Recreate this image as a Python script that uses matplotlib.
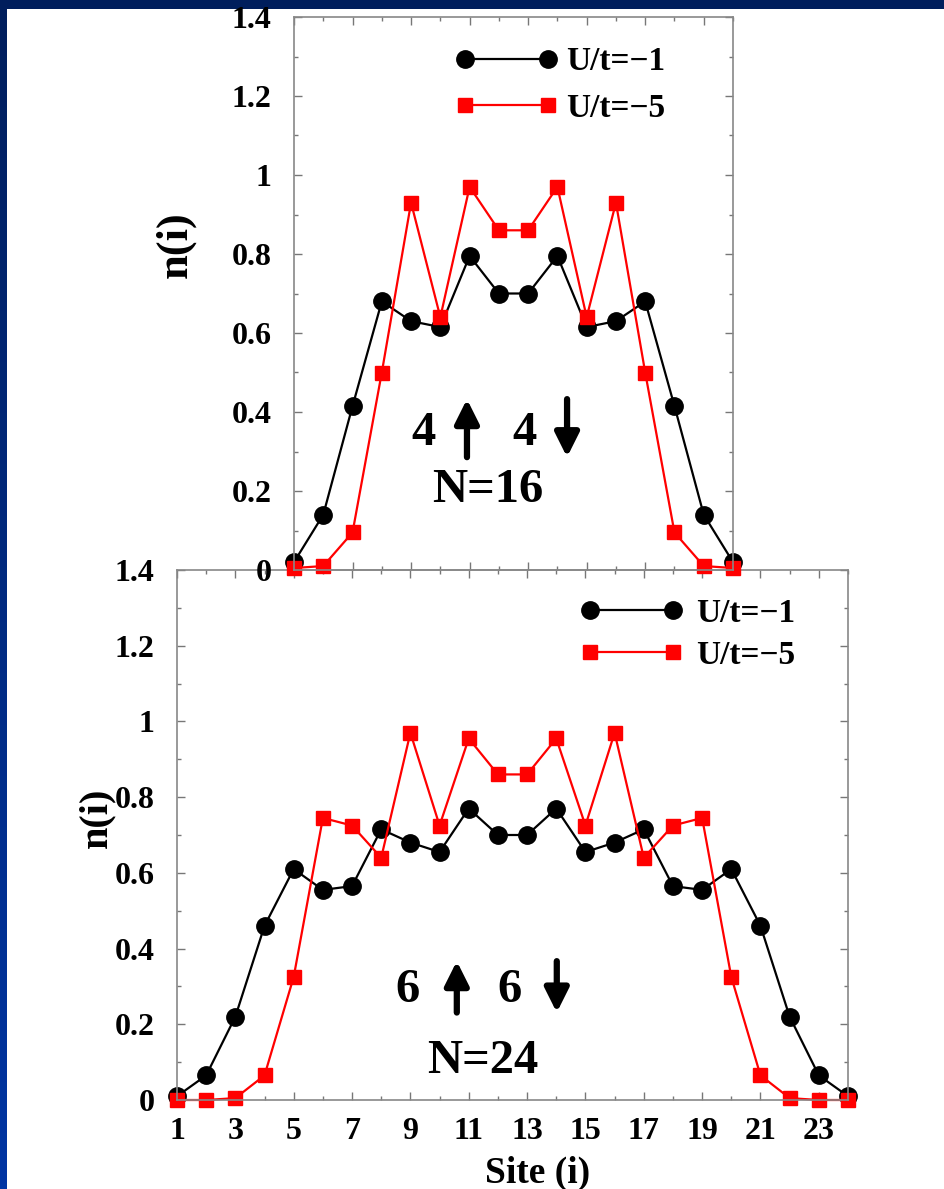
import matplotlib
matplotlib.use("Agg")
import matplotlib.pyplot as plt
import numpy as np
from matplotlib.ticker import MultipleLocator

plt.rcParams["font.family"] = ["Liberation Serif", "DejaVu Serif"]
plt.rcParams["font.weight"] = "bold"

# N=16 chain
sites16 = np.arange(1, 17)
n16_u1 = [0.02, 0.14, 0.415, 0.68, 0.63, 0.615, 0.795, 0.70,
          0.70, 0.795, 0.615, 0.63, 0.68, 0.415, 0.14, 0.02]
n16_u5 = [0.005, 0.01, 0.095, 0.50, 0.93, 0.64, 0.97, 0.86,
          0.86, 0.97, 0.64, 0.93, 0.50, 0.095, 0.01, 0.005]

# N=24 chain
sites24 = np.arange(1, 25)
n24_u1 = [0.01, 0.065, 0.22, 0.46, 0.61, 0.555, 0.565, 0.715, 0.68, 0.655, 0.77, 0.70,
          0.70, 0.77, 0.655, 0.68, 0.715, 0.565, 0.555, 0.61, 0.46, 0.22, 0.065, 0.01]
n24_u5 = [0.0, 0.0, 0.005, 0.065, 0.325, 0.745, 0.725, 0.64, 0.97, 0.725, 0.955, 0.86,
          0.86, 0.955, 0.725, 0.97, 0.64, 0.725, 0.745, 0.325, 0.065, 0.005, 0.0, 0.0]

labels = ["U/t=\u22121", "U/t=\u22125"]
yticks = [0, 0.2, 0.4, 0.6, 0.8, 1, 1.2, 1.4]
yticklabels = ["0", "0.2", "0.4", "0.6", "0.8", "1", "1.2", "1.4"]

W, H = 945, 1189
fig = plt.figure(figsize=(W / 100, H / 100), dpi=100, facecolor="white")

# dark blue slide border (top strip + left gradient strip)
top = fig.add_axes([0, 1 - 9 / H, 1, 9 / H])
top.set_axis_off()
top.add_patch(plt.Rectangle((0, 0), 1, 1, color="#001e5c", transform=top.transAxes))
left = fig.add_axes([0, 0, 7 / W, 1])
grad = np.linspace(0, 1, 256).reshape(-1, 1)
cmap = matplotlib.colors.LinearSegmentedColormap.from_list("slide", ["#001e5c", "#0035a3"])
left.imshow(grad, aspect="auto", cmap=cmap, origin="upper")
left.set_axis_off()


def style(ax, nsites, show_xlabels, pad_y):
    ax.set_xlim(1, nsites)
    ax.set_ylim(0, 1.4)
    ax.set_xticks(np.arange(1, nsites + 1, 2))
    ax.xaxis.set_minor_locator(MultipleLocator(1))
    ax.set_yticks(yticks)
    ax.set_yticklabels(yticklabels)
    ax.yaxis.set_minor_locator(MultipleLocator(0.1))
    ax.tick_params(which="both", direction="in", top=True, right=True,
                   color="#777777", width=1)
    ax.tick_params(which="major", length=6)
    ax.tick_params(which="minor", length=3)
    ax.tick_params(axis="y", labelsize=23, pad=pad_y)
    ax.tick_params(axis="x", labelsize=23, pad=12, labelbottom=show_xlabels)
    for s in ax.spines.values():
        s.set_color("#888888")
        s.set_linewidth(1.2)
    for lab in ax.get_xticklabels() + ax.get_yticklabels():
        lab.set_fontweight("bold")


def arrows(ax, x_up, x_down, y0, y1):
    style_kw = dict(arrowstyle="-|>", lw=4.5, color="black",
                    mutation_scale=36, shrinkA=0, shrinkB=0)
    ax.annotate("", xy=(x_up, y1), xytext=(x_up, y0), xycoords="axes fraction",
                arrowprops=style_kw)
    ax.annotate("", xy=(x_down, y0), xytext=(x_down, y1), xycoords="axes fraction",
                arrowprops=style_kw)


# bottom panel (N=24)
ax2 = fig.add_axes([177 / W, 1 - 1100 / H, 671 / W, 530 / H])
ax2.plot(sites24, n24_u1, "-o", color="black", lw=1.6, ms=12.5, clip_on=False, label=labels[0])
ax2.plot(sites24, n24_u5, "-s", color="red", lw=1.6, ms=10.5, clip_on=False, label=labels[1])
style(ax2, 24, True, 16)
ax2.set_xlabel("Site (i)", fontsize=27, fontweight="bold", va="center")
ax2.xaxis.set_label_coords(0.537, -0.138)
ax2.set_ylabel("n(i)", fontsize=29, fontweight="bold", va="center")
ax2.yaxis.set_label_coords(-0.12, 0.532)
ax2.legend(loc="upper left", bbox_to_anchor=(0.600, 0.947), frameon=False,
           numpoints=2, handlelength=3.1, handletextpad=0.39, labelspacing=0.32,
           borderpad=0, borderaxespad=0, prop={"size": 24, "weight": "bold"})
ax2.text(0.343, 0.208, "6", transform=ax2.transAxes, ha="center", va="center",
         fontsize=35, fontweight="bold")
ax2.text(0.496, 0.208, "6", transform=ax2.transAxes, ha="center", va="center",
         fontsize=35, fontweight="bold")
arrows(ax2, 0.417, 0.566, 0.165, 0.262)
ax2.text(0.456, 0.074, "N=24", transform=ax2.transAxes, ha="center", va="center",
         fontsize=35, fontweight="bold")

# top panel (N=16)
ax1 = fig.add_axes([294 / W, 1 - 570 / H, 439 / W, 553 / H])
ax1.patch.set_alpha(0)
ax1.plot(sites16, n16_u1, "-o", color="black", lw=1.6, ms=12.5, clip_on=False, label=labels[0])
ax1.plot(sites16, n16_u5, "-s", color="red", lw=1.6, ms=10.5, clip_on=False, label=labels[1])
style(ax1, 16, False, 16)
ax1.set_ylabel("n(i)", fontsize=32, fontweight="bold", va="center")
ax1.yaxis.set_label_coords(-0.271, 0.588)
ax1.legend(loc="upper left", bbox_to_anchor=(0.367, 0.947), frameon=False,
           numpoints=2, handlelength=3.1, handletextpad=0.24, labelspacing=0.46,
           borderpad=0, borderaxespad=0, prop={"size": 24, "weight": "bold"})
ax1.text(0.294, 0.248, "4", transform=ax1.transAxes, ha="center", va="center",
         fontsize=35, fontweight="bold")
ax1.text(0.526, 0.248, "4", transform=ax1.transAxes, ha="center", va="center",
         fontsize=35, fontweight="bold")
arrows(ax1, 0.394, 0.622, 0.204, 0.309)
ax1.text(0.442, 0.145, "N=16", transform=ax1.transAxes, ha="center", va="center",
         fontsize=35, fontweight="bold")

fig.savefig("out.png", dpi=100, facecolor="white")
